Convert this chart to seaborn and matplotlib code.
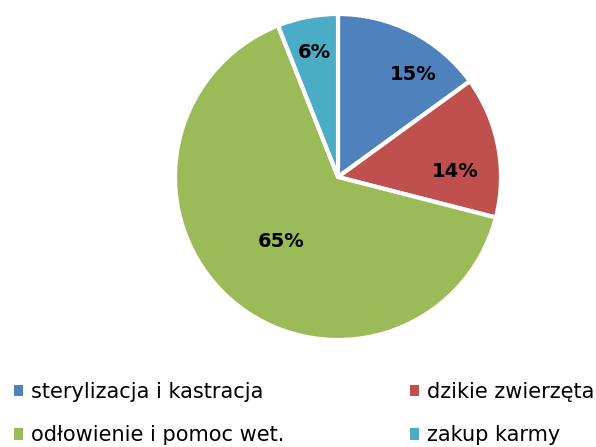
import numpy as np
import seaborn as sns
from matplotlib import pyplot as plt
from matplotlib.patches import Patch

sns.set_theme(style="white")
plt.rcParams['font.family'] = ['DejaVu Sans']

# dane
kategorie = ["sterylizacja i kastracja", "dzikie zwierzęta", "odłowienie i pomoc wet.", "zakup karmy"]
udzialy = [15, 14, 65, 6]
kolory = sns.color_palette(["#4F81BD", "#C0504D", "#9BBB59", "#4BACC6"])
# polozenie etykiet: odleglosc od srodka i przesuniecie kata (stopnie)
odl_etykiet = [0.78, 0.72, 0.53, 0.78]
przes_kata = [-9, -8, 0, 0]

fig = plt.figure(figsize=(5.96, 4.47), dpi=100)
ax = fig.add_axes([175/596, 107/447, 326/596, 326/447])

wedges, _ = ax.pie(udzialy, colors=kolory, startangle=90, counterclock=False, radius=1,
                   wedgeprops=dict(edgecolor="white", linewidth=3))
ax.set_xlim(-1, 1)
ax.set_ylim(-1, 1)
ax.set_aspect("equal")
ax.axis("off")

# etykiety procentowe
for w, v, d, p in zip(wedges, udzialy, odl_etykiet, przes_kata):
    kat = np.deg2rad((w.theta1 + w.theta2) / 2 + p)
    ax.text(d * np.cos(kat), d * np.sin(kat), f"{v}%", ha="center", va="center",
            fontsize=14, fontweight="bold", color="black")

# legenda (kolumnami)
kolejnosc = [0, 2, 1, 3]
uchwyty = [Patch(facecolor=kolory[i], edgecolor="none") for i in kolejnosc]
fig.legend(uchwyty, [kategorie[i] for i in kolejnosc], ncol=2, loc="center left",
           bbox_to_anchor=(-0.008, 1 - 413.5/447), frameon=False, fontsize=15,
           labelcolor="black", handlelength=0.45, handleheight=0.45, handletextpad=0.35,
           columnspacing=6.05, labelspacing=1.15)

fig.savefig("out.png", dpi=100)
